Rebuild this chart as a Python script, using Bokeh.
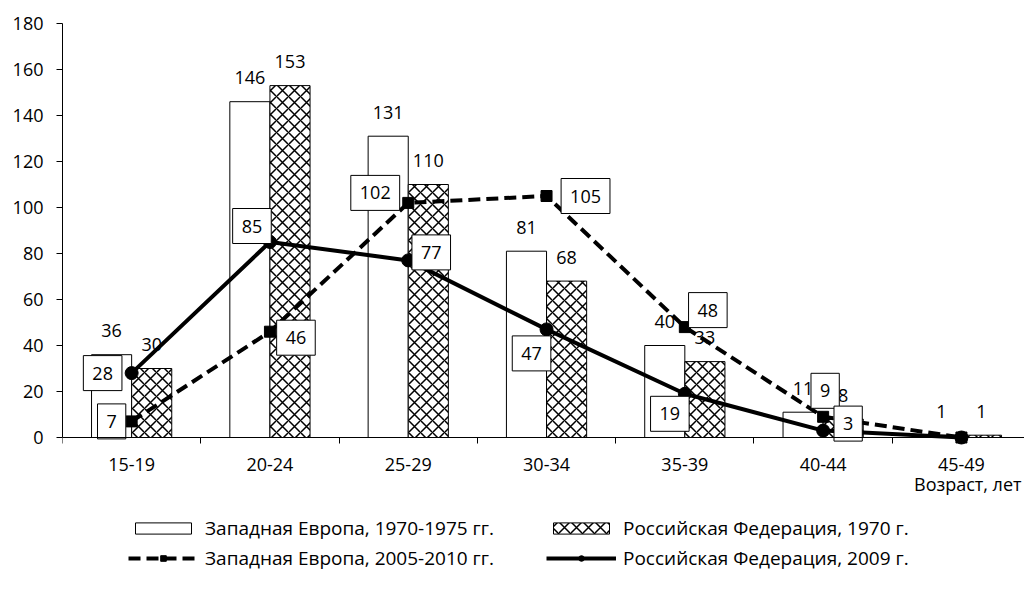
import numpy as np
from bokeh.plotting import figure
from bokeh.models import ColumnDataSource, Range1d, FixedTicker, Legend, LegendItem, Label
from bokeh.embed import file_html
from bokeh.resources import INLINE
from bokeh.core.properties import value

# ---- data ----
categories = ["15-19", "20-24", "25-29", "30-34", "35-39", "40-44", "45-49"]
we_1970 = [36, 146, 131, 81, 40, 11, 1]      # Западная Европа, 1970-1975 гг. (bars)
ru_1970 = [30, 153, 110, 68, 33, 8, 1]       # Российская Федерация, 1970 г. (bars)
we_2005 = [7, 46, 102, 105, 48, 9, 0]        # Западная Европа, 2005-2010 гг. (dashed)
ru_2009 = [28, 85, 77, 47, 19, 3, 0]         # Российская Федерация, 2009 г. (solid)
y_ticks = [0, 20, 40, 60, 80, 100, 120, 140, 160, 180]
labels_names = ["Западная Европа, 1970-1975 гг.", "Российская Федерация, 1970 г.",
                "Западная Европа, 2005-2010 гг.", "Российская Федерация, 2009 г."]
x_title = "Возраст, лет"

# ---- label placement styles (screen px offsets) ----
we_2005_dx = [-20, 26, -33, 39, 23, 2]
we_2005_dy = [0, 6, -10, 0, -17, -26]
ru_2009_dx = [-29, -18, 23, -15, -15, 25]
ru_2009_dy = [0, -16, -8, 24, 20, -7]

FONT = "Open Sans"
FS = "18px"
n = len(categories)
xc = np.arange(n) + 0.5
bw = 0.29
X_END = 6.956

# the frame reaches below zero so that axis labels and legend sit inside it
p = figure(width=1024, height=598, x_range=Range1d(0, X_END), y_range=Range1d(-70, 180),
           output_backend="svg", toolbar_location=None,
           min_border_left=62, min_border_right=0, min_border_top=23, min_border_bottom=0)
p.grid.visible = False
p.outline_line_color = None
p.background_fill_color = "white"
p.border_fill_color = "white"

src = ColumnDataSource(dict(
    x=xc, x_we=xc - bw / 2, x_ru=xc + bw / 2,
    we70=we_1970, ru70=ru_1970, we05=we_2005, ru09=ru_2009,
    we70_t=[str(v) for v in we_1970], ru70_t=[str(v) for v in ru_1970],
))

r_we70 = p.vbar(x="x_we", top="we70", width=bw, source=src, fill_color="white",
                line_color="black", line_width=1)
r_ru70 = p.vbar(x="x_ru", top="ru70", width=bw, source=src, fill_color="white",
                line_color="black", line_width=1, hatch_pattern="diagonal_cross",
                hatch_color="black", hatch_scale=12, hatch_weight=1.5)

r_we05_l = p.line(x="x", y="we05", source=src, line_color="black", line_width=4, line_dash="12 6")
r_we05_m = p.scatter(x="x", y="we05", source=src, marker="square", size=11,
                     fill_color="black", line_color="black")
r_ru09_l = p.line(x="x", y="ru09", source=src, line_color="black", line_width=4)
r_ru09_m = p.scatter(x="x", y="ru09", source=src, marker="circle", size=13,
                     fill_color="black", line_color="black")

# bar value labels
p.text(x="x_we", y="we70", text="we70_t", source=src, text_align="center",
       text_baseline="middle", y_offset=-24, text_font=value(FONT), text_font_size=FS,
       text_color="black")
p.text(x="x_ru", y="ru70", text="ru70_t", source=src, text_align="center",
       text_baseline="middle", y_offset=-24, text_font=value(FONT), text_font_size=FS,
       text_color="black")

# boxed line labels (not for the last, zero point)
m = len(we_2005_dx)
for vals, dx, dy in ((we_2005, we_2005_dx, we_2005_dy), (ru_2009, ru_2009_dx, ru_2009_dy)):
    ls = ColumnDataSource(dict(x=xc[:m], y=vals[:m], t=[str(v) for v in vals[:m]], dx=dx, dy=dy))
    p.text(x="x", y="y", text="t", source=ls, x_offset="dx", y_offset="dy",
           text_align="center", text_baseline="middle", text_font=value(FONT),
           text_font_size=FS, text_color="black", background_fill_color="white",
           border_line_color="black", border_line_width=1, padding=(9, 11))

# axes
p.xaxis.fixed_location = 0
p.xaxis.ticker = FixedTicker(ticks=list(xc), minor_ticks=list(range(n + 1)))
p.xaxis.major_label_overrides = {float(x): c for x, c in zip(xc, categories)}
p.xaxis.major_tick_out = 6
p.xaxis.major_tick_in = 0
p.xaxis.minor_tick_out = 6
p.xaxis.minor_tick_in = 0
p.xaxis.minor_tick_line_color = "black"
p.xaxis.major_label_standoff = 14
p.yaxis.ticker = FixedTicker(ticks=y_ticks)
p.yaxis.bounds = (0, 180)
p.yaxis.minor_tick_line_color = None
p.yaxis.major_tick_out = 6
p.yaxis.major_tick_in = 0
p.yaxis.major_label_standoff = 13
for ax in (p.xaxis, p.yaxis):
    ax.axis_line_color = "black"
    ax.major_label_text_font = FONT
    ax.major_label_text_font_size = FS
    ax.major_label_text_color = "black"
p.yaxis.major_tick_line_color = "black"
p.xaxis.major_tick_line_color = None

# x-axis title, right-aligned under the last category
p.add_layout(Label(x=X_END, y=-20, text=x_title, text_align="right", x_offset=-3,
                   text_baseline="middle", text_font=FONT, text_font_size=FS,
                   text_color="black"))

legend = Legend(items=[
    LegendItem(label=labels_names[0], renderers=[r_we70]),
    LegendItem(label=labels_names[1], renderers=[r_ru70]),
    LegendItem(label=labels_names[2], renderers=[r_we05_l, r_we05_m]),
    LegendItem(label=labels_names[3], renderers=[r_ru09_l, r_ru09_m]),
], location=(66, 27), orientation="horizontal", ncols=2, padding=0, margin=0,
    spacing=4, glyph_width=70, glyph_height=14, label_standoff=7, label_width=337,
    label_text_font=FONT, label_text_font_size="19px", label_text_color="black",
    border_line_color=None, background_fill_alpha=0)
p.add_layout(legend, "center")

open("out.html", "w").write(file_html(p, INLINE))
